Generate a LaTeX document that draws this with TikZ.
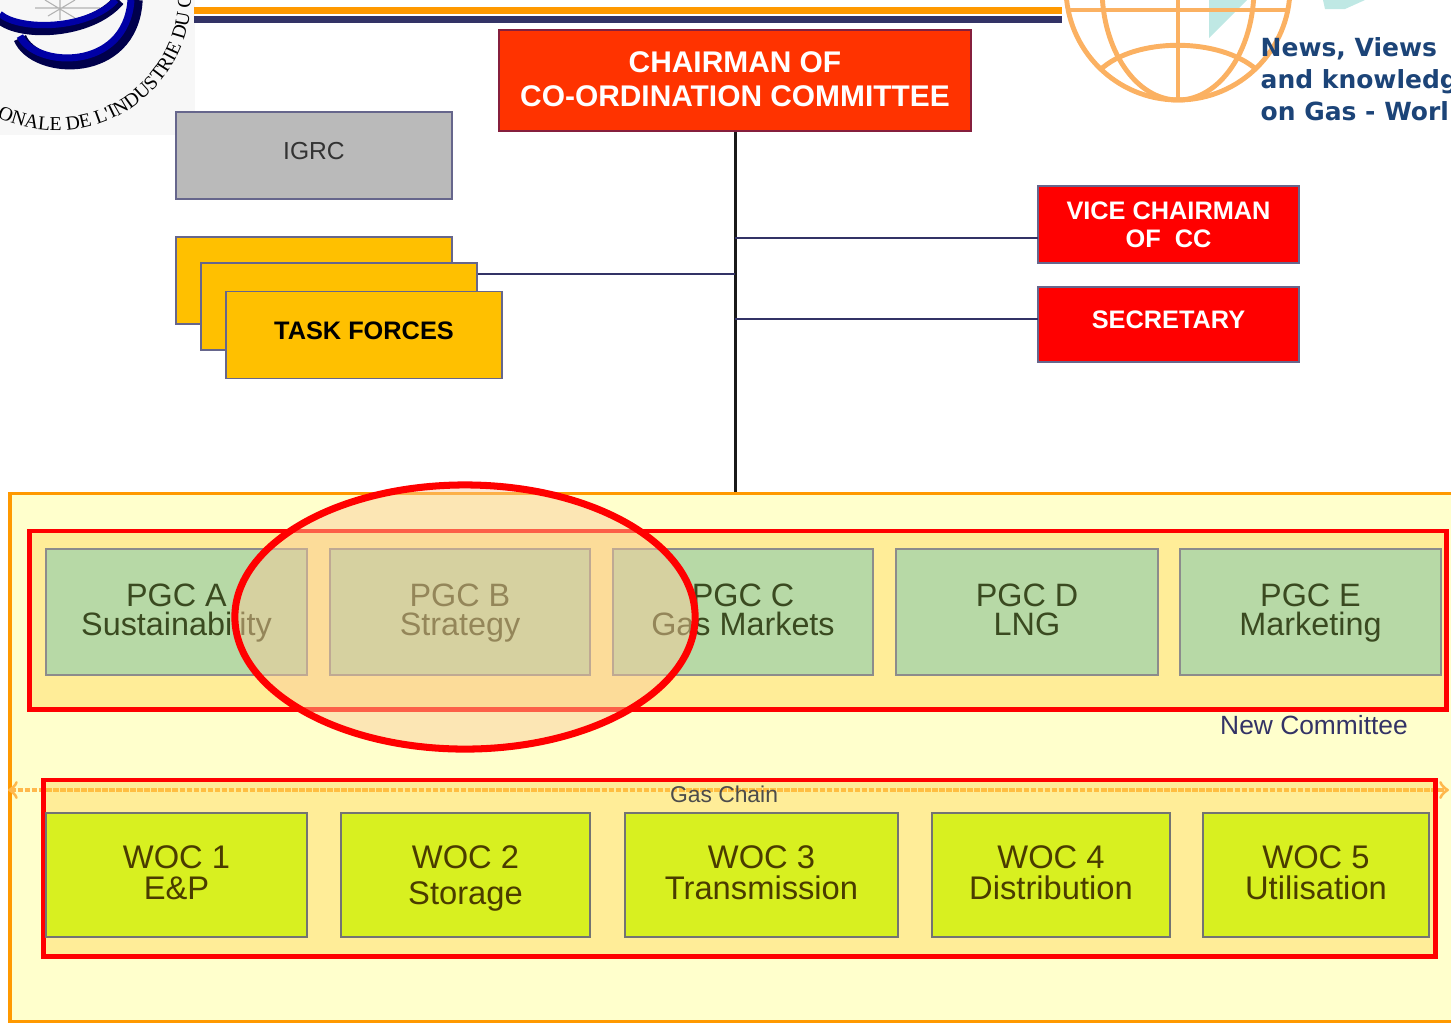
\documentclass[tikz,border=0pt]{standalone}
\usepackage{fontspec}
\setmainfont{Liberation Sans}
\newfontfamily\logofont{Liberation Serif}
\newfontfamily\newsfont{DejaVu Sans}
\usetikzlibrary{arrows,shapes,decorations.text}

\definecolor{navy}{HTML}{333366}
\definecolor{chairred}{HTML}{FF3300}
\definecolor{amber}{HTML}{FFC000}
\definecolor{panelfill}{HTML}{FFFFCC}
\definecolor{panelline}{HTML}{FF9900}
\definecolor{framefill}{HTML}{FFCB30}
\definecolor{pgcgreen}{HTML}{B7D9A6}
\definecolor{wocgreen}{HTML}{D8F020}
\definecolor{inktext}{HTML}{4A3C00}
\definecolor{pgctext}{HTML}{3A4A20}
\definecolor{newsblue}{HTML}{1C4478}
\definecolor{globeline}{HTML}{FBB162}
\definecolor{land}{HTML}{BFE8E4}
\definecolor{blobfill}{HTML}{FACA9B}

\tikzstyle{box}=[rectangle,draw=navy!75,line width=0.5pt,inner sep=0pt,align=center]
\tikzstyle{topbox}=[box,fill=red,text=white,minimum width=2.61cm,font=\bfseries\fontsize{7.2}{8}\selectfont]
\tikzstyle{taskbox}=[box,fill=amber,minimum width=2.76cm,minimum height=0.87cm]
\tikzstyle{pgcbox}=[box,draw=black!45,fill=pgcgreen,text=pgctext,minimum height=1.26cm,font=\fontsize{9.2}{8.25}\selectfont]
\tikzstyle{wocbox}=[box,draw=black!55,fill=wocgreen,text=inktext,minimum height=1.24cm,font=\fontsize{9.3}{8.8}\selectfont]
\tikzstyle{redframe}=[rectangle,draw=red,line width=1.4pt,fill=framefill,fill opacity=0.33,inner sep=0pt]
\tikzstyle{edge}=[draw=navy,line width=0.7pt]

\begin{document}
\begin{tikzpicture}[x=0.01cm,y=-0.01cm]

    \useasboundingbox (0,0) rectangle (1451,1023);
    \clip (0,0) rectangle (1451,1023);

    % logo corner
    \fill[black!3] (0,0) rectangle (195,135);
    \draw[black!30,line width=0.3pt] (45,0) -- (75,18) (60,0) -- (60,20) (75,0) -- (48,16) (35,8) -- (100,8);
    \draw[black!70!blue,line width=3.4pt] (0,18) .. controls (20,36) and (90,34) .. (119,0);
    \draw[blue!65!black,line width=1.8pt] (0,14) .. controls (20,31) and (88,30) .. (116,0);
    \draw[black!70!blue,line width=3.8pt] (20,38) .. controls (35,74) and (132,78) .. (136,0);
    \draw[blue!65!black,line width=2pt] (20,36) .. controls (35,68) and (126,72) .. (131,0);
    \path[decorate,decoration={text along path,text={|\logofont\fontsize{5.6}{6}\selectfont|ONALE DE L'INDUSTRIE DU C}}]
        (-3,117) arc (116:-8:135);

    % header rules
    \fill[panelline] (194,7) rectangle (1062,14);
    \fill[navy] (194,16) rectangle (1062,23);

    % globe
    \fill[land] (1209,0) -- (1247,0) -- (1212,35) -- (1209,38) -- cycle;
    \fill[land] (1323,0) -- (1365,0) -- (1345,9) -- (1325,9) -- cycle;
    \begin{scope}[globeline,line width=1.4pt]
        \draw (1178,-12) circle[x radius=112,y radius=112];
        \draw (1178,-12) circle[x radius=76,y radius=112];
        \draw (1178,-12) -- (1178,100);
        \draw (1066,10) -- (1290,10);
        \draw (1100,70) .. controls (1135,37) and (1220,37) .. (1257,70);
    \end{scope}
    \node[anchor=north west,inner sep=0pt,align=left,text=newsblue,font=\newsfont\bfseries\fontsize{7.1}{9.1}\selectfont] (news) at (1260,37)
        {News, Views\\and knowledg\\on Gas - Worl};

    % committee panel
    \node[rectangle,draw=panelline,line width=0.9pt,fill=panelfill,inner sep=0pt,minimum width=14.8cm,minimum height=5.27cm] (panel) at (750.5,757.5) {};
    \coordinate (chainl) at (8,790);
    \coordinate (chainr) at (1449,790);
    \draw[<->,>=to,panelline!70,line width=0.9pt,dash pattern=on 1.6pt off 0.4pt] (chainl) -- (chainr);
    \node[redframe,minimum width=14.16cm,minimum height=1.78cm] (pgcframe) at (738,620) {};
    \node[redframe,minimum width=13.91cm,minimum height=1.76cm] (wocframe) at (739.5,868) {};

    % top of the chart
    \node[box,fill=chairred,draw=navy!60!red,text=white,minimum width=4.72cm,minimum height=1.01cm,font=\fontsize{8.5}{9.5}\selectfont\bfseries] (chair) at (735,80.5)
        {CHAIRMAN OF\\CO-ORDINATION COMMITTEE\rule[-0.85pt]{0pt}{1pt}};
    \node[box,fill=black!27,minimum width=2.76cm,minimum height=0.87cm,text=black!80,font=\fontsize{7}{8}\selectfont] (igrc) at (314,155.5) {\rule[-3pt]{0pt}{8.4pt}IGRC};
    \node[taskbox] (taska) at (314,280.5) {};
    \node[taskbox] (taskb) at (339,306.5) {};
    \node[taskbox,font=\bfseries\fontsize{7.2}{8}\selectfont] (taskc) at (364,335) {\rule[-3pt]{0pt}{8.7pt}TASK FORCES};
    \node[topbox,minimum height=0.77cm] (vice) at (1168.5,224.5) {VICE CHAIRMAN\\OF\ \ CC};
    \node[topbox,minimum height=0.75cm] (secr) at (1168.5,324.5) {\rule[-3.5pt]{0pt}{9pt}SECRETARY};

    \coordinate (vicein) at (1038,238);
    \coordinate (secrin) at (1038,319);
    \coordinate (taskout) at (477.5,274);
    \draw[black!90,line width=0.85pt] (chair.south) -- (chair.south |- panel.north);
    \foreach \source in {vicein,secrin,taskout}
        \path[edge] (\source) -- (\source -| chair.south);

    \node[box,draw=none,text=navy,font=\fontsize{7.5}{8}\selectfont] (newcomm) at (1314,725) {New Committee};
    \node[box,draw=none,text=black!70,font=\fontsize{6.5}{7}\selectfont] (gaschain) at (724,794) {Gas Chain};

    % PGC row
    \foreach \x/\w/\name/\label in {176.5/2.61/pgca/{PGC A\\Sustainability}, 460/2.60/pgcb/{PGC B\\Strategy}, 743/2.60/pgcc/{PGC C\\Gas Markets}, 1027/2.62/pgcd/{PGC D\\LNG}, 1310.5/2.61/pgce/{PGC E\\Marketing}}
        \node[pgcbox,minimum width=\w cm] (\name) at (\x,612) {\rule{0pt}{8.2pt}\label\rule[-3pt]{0pt}{3pt}};

    % WOC row
    \foreach \x/\w/\name/\label in {176.5/2.61/woca/{WOC 1\\E\&P}, 465.5/2.49/wocb/{WOC 2\\\raisebox{-1.4pt}{Storage}}, 761.5/2.73/wocc/{WOC 3\\Transmission}, 1051/2.38/wocd/{WOC 4\\Distribution}, 1316/2.26/woce/{WOC 5\\Utilisation}}
        \node[wocbox,minimum width=\w cm] (\name) at (\x,875) {\rule{0pt}{8.4pt}\label\rule[-3.3pt]{0pt}{3.3pt}};

    % highlight
    \node[ellipse,draw=red,line width=2pt,fill=blobfill,fill opacity=0.47,minimum width=4.6cm,minimum height=2.64cm,inner sep=0pt] (focus) at (465,617) {};

\end{tikzpicture}
\end{document}
